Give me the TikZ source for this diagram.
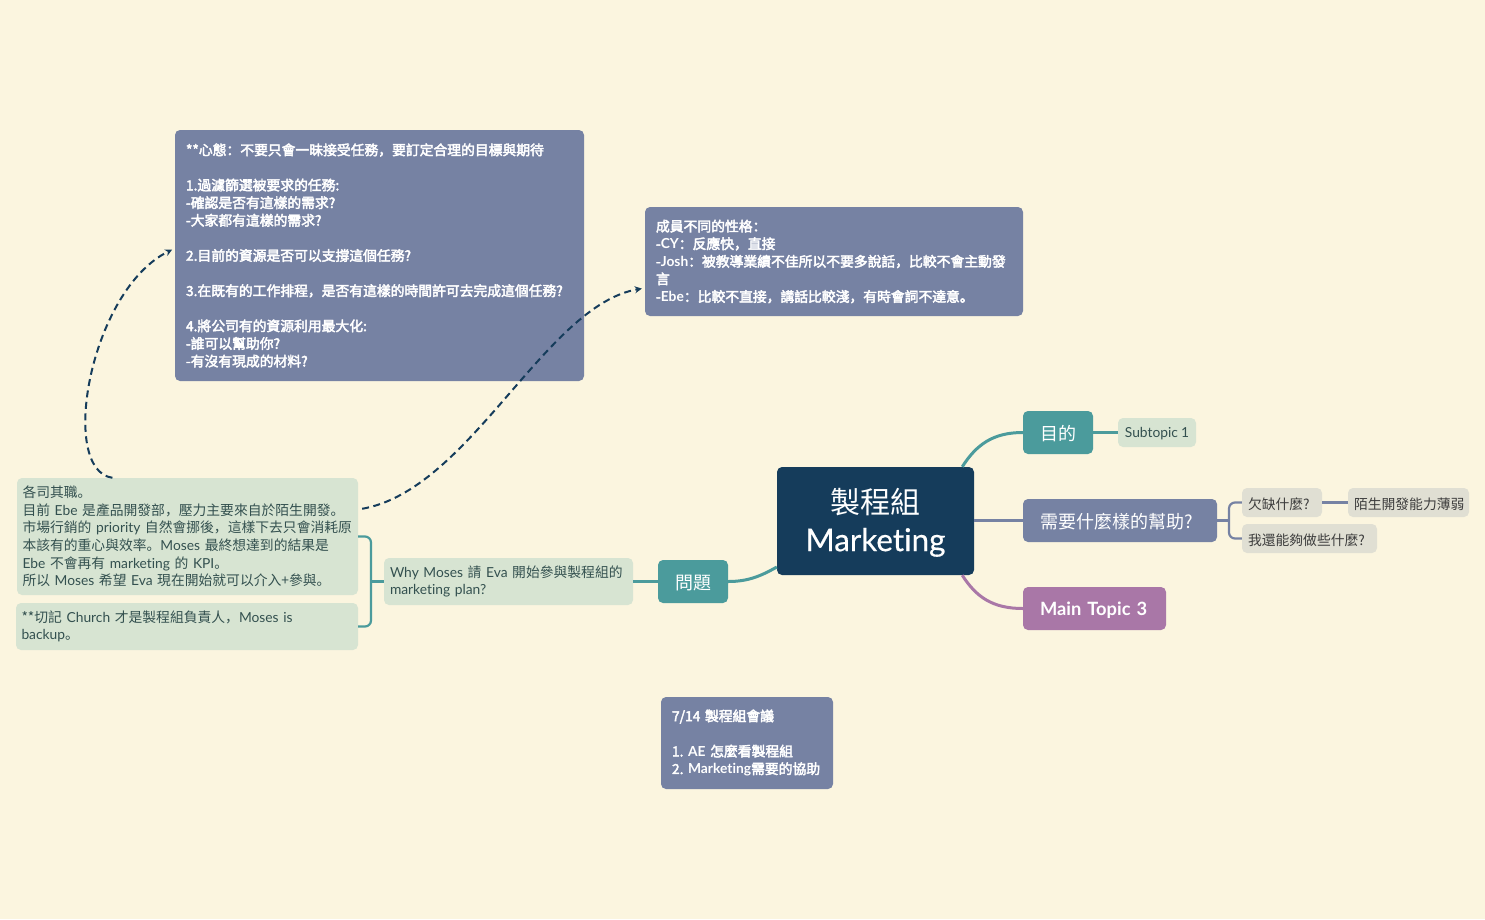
\documentclass[tikz,border=0pt]{standalone}
\usepackage{fontspec}
\usetikzlibrary{arrows.meta}
\setmainfont{Noto Sans CJK SC}[WordSpace=0.75]
\newfontfamily\cjkb[FakeBold=3,WordSpace=0.75]{Noto Sans CJK SC}
\newfontfamily\latreg[Ligatures=CommonOff,WordSpace=0.9]{Lato}
\newfontfamily\latmed[FakeBold=0.4,Ligatures=CommonOff]{Lato}
\newfontfamily\latbold[Ligatures=CommonOff]{Lato Bold}
\let\latfont\latreg
\newcommand{\E}[1]{\mbox{\latfont #1}}
\newcommand{\D}[1]{\raisebox{-1.3pt}[\height][\depth]{#1}}
\definecolor{bgc}{HTML}{FBF5DF}
\definecolor{navy}{HTML}{153C5B}
\definecolor{tealc}{HTML}{4B9B9C}
\definecolor{slatec}{HTML}{7682A3}
\definecolor{plumc}{HTML}{A977A7}
\definecolor{sagec}{HTML}{D7E4D2}
\definecolor{greyc}{HTML}{E0DFD3}
\definecolor{sagetxt}{HTML}{33504F}
\definecolor{greytxt}{HTML}{3D3D3D}
\tikzset{
 x=1pt,y=-1pt,
 base/.style={rectangle,rounded corners=5pt,inner xsep=0pt,inner ysep=0pt},
 rootbox/.style={base,fill=navy,text=white,align=center,font=\fontsize{30}{38}\selectfont\let\latfont\latmed},
 topicbox/.style={base,text=white,align=left,font=\fontsize{18}{22}\selectfont},
 subbox/.style={base,fill=sagec,text=sagetxt,align=left,font=\fontsize{13.8}{17.6}\selectfont},
 greybox/.style={base,fill=greyc,text=greytxt,align=left,font=\fontsize{13.8}{17.6}\selectfont},
 notebox/.style={base,fill=slatec,text=white,align=left,font=\fontsize{13.8}{17.6}\selectfont\let\latfont\latbold\cjkb},
 tl/.style={line width=3pt,draw=tealc},
 sl/.style={line width=3pt,draw=slatec},
 pl/.style={line width=3pt,draw=plumc},
 tt/.style={line width=2.2pt,draw=tealc},
 ss/.style={line width=2.2pt,draw=slatec},
 dashlink/.style={line width=2pt,draw=navy,dash pattern=on 7pt off 4.5pt,-{Stealth[length=7pt,width=7pt]}},
}
\begin{document}
\begin{tikzpicture}
\fill[bgc] (0,0) rectangle (1485,919);
\useasboundingbox (0,0) rectangle (1485,919);
\node[rootbox,minimum width=197pt,minimum height=108pt] (root) at (875.5,521) {\D{製程組}\\\D{\E{\fontsize{31.4}{38}\selectfont Marketing}}};
\node[topicbox,fill=tealc,minimum width=70pt,minimum height=43pt,align=center] (goal) at (1058,432.5) {\D{目的}};
\node[topicbox,fill=slatec,minimum width=194pt,minimum height=43pt,text width=160pt] (help) at (1120,520.5) {\D{需要什麼樣的幫助?}};
\node[topicbox,fill=plumc,minimum width=143pt,minimum height=43pt,text width=109pt,font=\fontsize{18.3}{22}\selectfont\latbold] (mt) at (1094.5,608.5) {\D{\mbox{Main Topic 3}}};
\node[topicbox,fill=tealc,minimum width=70pt,minimum height=43pt,align=center] (ask) at (693,581.5) {\D{問題}};
\node[subbox,align=center,minimum width=78pt,minimum height=29pt] (sub) at (1157,432.5) {\D{\E{Subtopic 1}}};
\node[greybox,minimum width=80pt,minimum height=29pt,text width=68pt] (lack) at (1282,502.5) {\D{欠缺什麼?}};
\node[greybox,minimum width=121pt,minimum height=29pt,text width=109pt] (weak) at (1408.5,502.5) {\D{陌生開發能力薄弱}};
\node[greybox,minimum width=135pt,minimum height=29pt,text width=123pt] (can) at (1309.5,538.5) {\D{我還能夠做些什麼?}};
\node[subbox,minimum width=249pt,minimum height=47pt,text width=237pt] (why) at (508.5,581.5) {\E{Why Moses}~請~\E{Eva}~開始參與製程組的\\\E{marketing plan?}};
\node[subbox,minimum width=341pt,minimum height=117pt,text width=330pt] (roles) at (187.5,536.5) {各司其職。\\目前~\E{Ebe}~是產品開發部，壓力主要來自於陌生開發。\\市場行銷的~\E{priority}~自然會挪後，這樣下去只會消耗原\\本該有的重心與效率。\E{Moses}~最終想達到的結果是\\\E{Ebe}~不會再有~\E{marketing}~的~\E{KPI}。\\所以~\E{Moses}~希望~\E{Eva}~現在開始就可以介入+參與。};
\node[subbox,minimum width=342pt,minimum height=47pt,text width=331pt] (mind) at (187,626.5) {**切記~\E{Church}~才是製程組負責人，\E{Moses is}\\\E{backup}。};
\node[notebox,minimum width=409pt,minimum height=251pt,text width=387pt] (n1) at (379.5,255.5) {**心態：不要只會一昧接受任務，要訂定合理的目標與期待\\[17.6pt]1.過濾篩選被要求的任務:\\-確認是否有這樣的需求?\\-大家都有這樣的需求?\\[17.6pt]2.目前的資源是否可以支撐這個任務?\\[17.6pt]3.在既有的工作排程，是否有這樣的時間許可去完成這個任務?\\[17.6pt]4.將公司有的資源利用最大化:\\-誰可以幫助你?\\-有沒有現成的材料?};
\node[notebox,minimum width=378pt,minimum height=109pt,text width=356pt] (n2) at (834,261.5) {成員不同的性格：\\-\E{CY}：反應快，直接\\-\E{Josh}：被教導業績不佳所以不要多說話，比較不會主動發\\言\\-\E{Ebe}：比較不直接，講話比較淺，有時會詞不達意。};
\node[notebox,minimum width=172pt,minimum height=92pt,text width=150pt] (n3) at (747,743) {7/14~製程組會議\\[17.6pt]1.~\E{AE}~怎麼看製程組\\2.~\E{Marketing}需要的協助};
% connectors
\draw[tl] (root.32.6) .. controls +(14,-22) and +(-30,0) .. (goal.west);
\draw[sl] (root.east |- help.west) -- (help.west);
\draw[pl] (root.-32.6) .. controls +(14,22) and +(-30,0) .. (mt.west);
\draw[tl] (root.205.5) .. controls +(-16,9) and +(20,0) .. (ask.east);
\draw[tt] (goal.east) -- (sub.west);
\coordinate (hb) at (1229,520.5);
\draw[ss] (help.east) -- (hb);
\draw[ss,rounded corners=6pt] (lack.west) -| (hb) |- (can.west);
\draw[ss] (lack.east) -- (weak.west);
\draw[tt] (ask.west) -- (why.east);
\coordinate (wb) at (371,581.5);
\draw[tt] (why.west) -- (wb);
\draw[tt,rounded corners=6pt] (roles.east) -| (wb) |- (mind.east);
\draw[dashlink,shorten >=3pt] (roles.142) .. controls (58,470) and (90,290) .. (n1.178.5);
\draw[dashlink,shorten <=4pt,shorten >=3pt] (roles.9.2) .. controls (470,490) and (545,305) .. (n2.188.6);
\end{tikzpicture}
\end{document}
